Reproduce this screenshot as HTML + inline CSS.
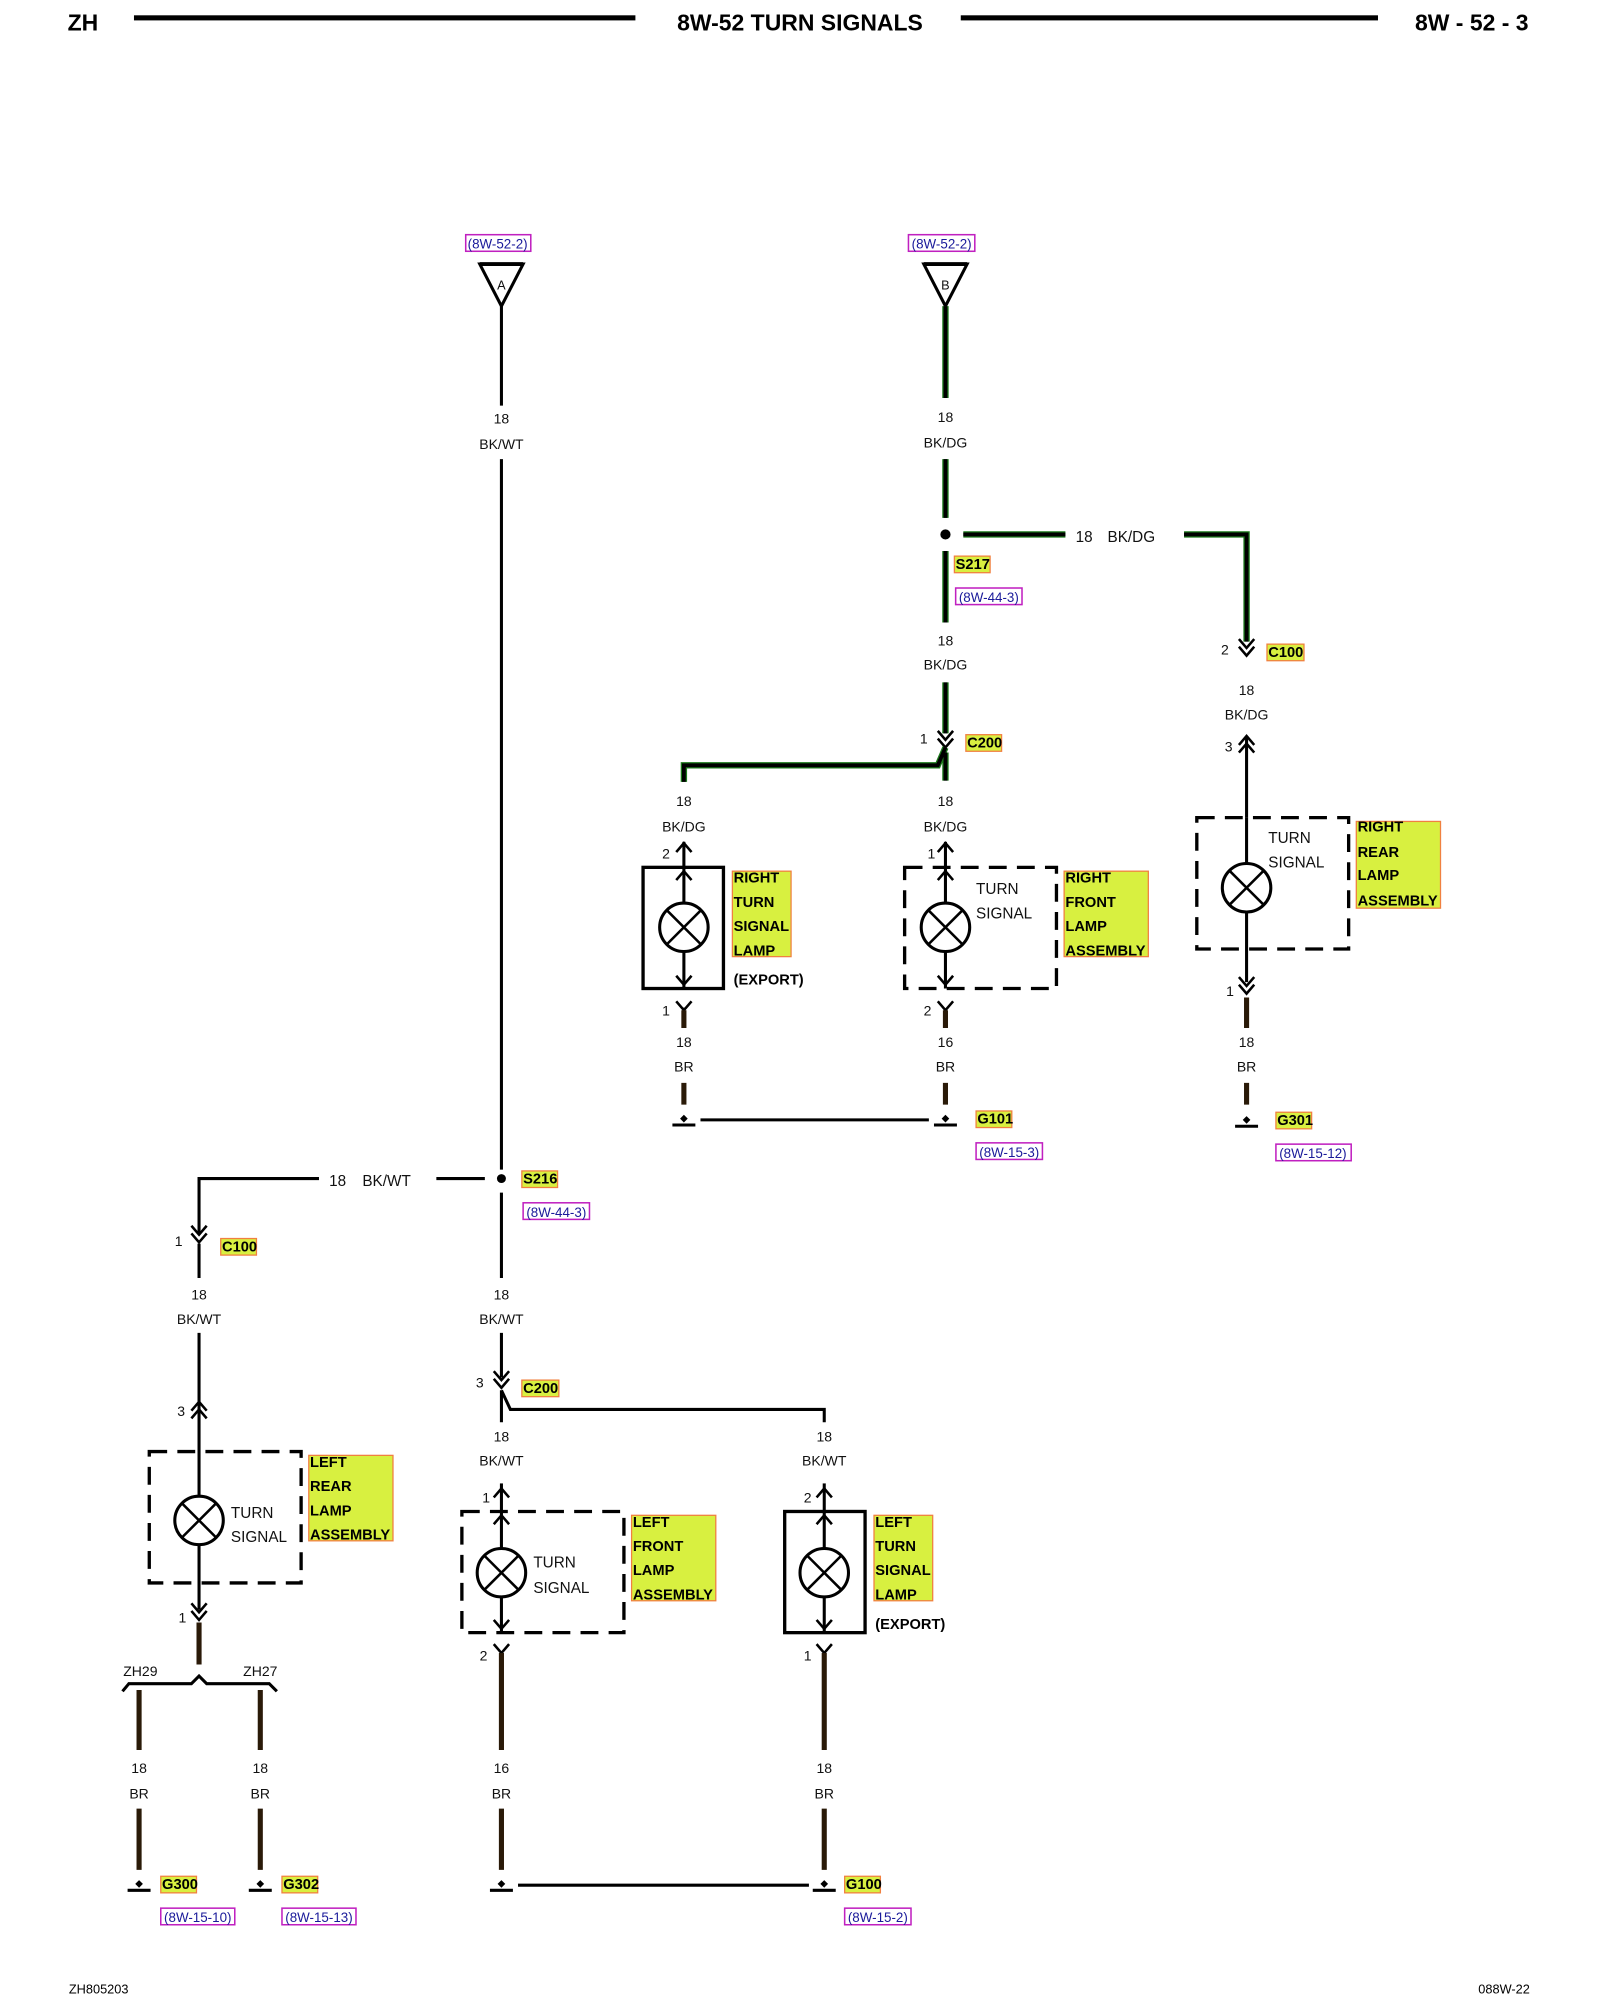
<!DOCTYPE html>
<html><head><meta charset="utf-8"><style>
html,body{margin:0;padding:0;background:#fff}
svg{display:block}
text{font-family:"Liberation Sans",sans-serif}
.t{font-size:11px;text-anchor:middle;fill:#111}
.l{font-size:12px;fill:#111}
.lb{font-size:11.5px;font-weight:bold;fill:#000}
.ref{font-size:10.5px;fill:#1a1a9a;text-anchor:middle}
.w{stroke:#000;stroke-width:2.4;fill:none}
.br{stroke:#2a1a08;stroke-width:4;fill:none}
.g{stroke:#1c7a1c;stroke-width:5;fill:none}
.gk{stroke:#000;stroke-width:3;fill:none}
.d{stroke:#000;stroke-width:2.6;fill:none;stroke-dasharray:14 8}
.s{stroke:#000;stroke-width:2.6;fill:none}
</style></head><body>
<svg width="1600" height="2000" viewBox="0 0 1254 1568" preserveAspectRatio="none" xmlns="http://www.w3.org/2000/svg">
<defs>
<g id="lamp"><circle r="19" fill="#fff" stroke="#000" stroke-width="2.4"/><path d="M-13,-13L13,13M13,-13L-13,13" stroke="#000" stroke-width="2"/></g>
<g id="car"><path d="M-6,7L0,0L6,7" stroke="#000" stroke-width="2" fill="none"/></g>
<g id="vee"><path d="M-6,-7L0,0L6,-7" stroke="#000" stroke-width="2" fill="none"/></g>
<g id="gnd"><path d="M-9,4H9" stroke="#000" stroke-width="2.4"/><path d="M0,-4L3,-1L0,2L-3,-1Z" fill="#000"/></g>
</defs>
<!-- header -->
<text x="53" y="24" style="font-size:18px;font-weight:bold">ZH</text>
<rect x="105" y="12" width="393" height="4" fill="#000"/>
<text x="627" y="24" style="font-size:18px;font-weight:bold;text-anchor:middle">8W-52 TURN SIGNALS</text>
<rect x="753" y="12" width="327" height="4" fill="#000"/>
<text x="1198" y="24" style="font-size:18px;font-weight:bold;text-anchor:end">8W - 52 - 3</text>
<text x="54" y="1563" style="font-size:10px">ZH805203</text>
<text x="1199" y="1563" style="font-size:10px;text-anchor:end">088W-22</text>

<!-- ref boxes -->
<g fill="#fff" stroke="#c020c0" stroke-width="1.2">
<rect x="365" y="184" width="51" height="13"/><rect x="712" y="184" width="52" height="13"/>
<rect x="749" y="461" width="52" height="13"/><rect x="765" y="896" width="52" height="13"/>
<rect x="1000" y="897" width="59" height="13"/><rect x="410" y="943" width="52" height="13"/>
<rect x="126" y="1496" width="58" height="13"/><rect x="221" y="1496" width="58" height="13"/>
<rect x="662" y="1496" width="52" height="13"/>
</g>
<text class="ref" x="390" y="195">(8W-52-2)</text><text class="ref" x="738" y="195">(8W-52-2)</text>
<text class="ref" x="775" y="472">(8W-44-3)</text><text class="ref" x="791" y="907">(8W-15-3)</text>
<text class="ref" x="1029" y="908">(8W-15-12)</text><text class="ref" x="436" y="954">(8W-44-3)</text>
<text class="ref" x="155" y="1507">(8W-15-10)</text><text class="ref" x="250" y="1507">(8W-15-13)</text>
<text class="ref" x="688" y="1507">(8W-15-2)</text>

<!-- yellow tags -->
<g fill="#d8f040" stroke="#f08040" stroke-width="1">
<rect x="748" y="436" width="28" height="13"/><rect x="993" y="505" width="29" height="13"/>
<rect x="757" y="576" width="28" height="13"/><rect x="765" y="871" width="28" height="13"/>
<rect x="1000" y="872" width="28" height="13"/><rect x="409" y="918" width="28" height="13"/>
<rect x="173" y="971" width="28" height="13"/><rect x="409" y="1082" width="29" height="13"/>
<rect x="126" y="1471" width="28" height="13"/><rect x="221" y="1471" width="28" height="13"/>
<rect x="662" y="1471" width="28" height="13"/>
<rect x="574" y="683" width="46" height="67"/><rect x="834" y="683" width="66" height="67"/>
<rect x="1063" y="644" width="66" height="68"/><rect x="242" y="1141" width="66" height="67"/>
<rect x="495" y="1188" width="66" height="67"/><rect x="685" y="1188" width="46" height="67"/>
</g>
<g class="lb">
<text x="749" y="446">S217</text><text x="994" y="515">C100</text><text x="758" y="586">C200</text>
<text x="766" y="881">G101</text><text x="1001" y="882">G301</text><text x="410" y="928">S216</text>
<text x="174" y="981">C100</text><text x="410" y="1092">C200</text><text x="127" y="1481">G300</text>
<text x="222" y="1481">G302</text><text x="663" y="1481">G100</text>
<text x="575" y="692">RIGHT</text><text x="575" y="711">TURN</text><text x="575" y="730">SIGNAL</text><text x="575" y="749">LAMP</text>
<text x="575" y="772">(EXPORT)</text>
<text x="835" y="692">RIGHT</text><text x="835" y="711">FRONT</text><text x="835" y="730">LAMP</text><text x="835" y="749">ASSEMBLY</text>
<text x="1064" y="652">RIGHT</text><text x="1064" y="672">REAR</text><text x="1064" y="690">LAMP</text><text x="1064" y="710">ASSEMBLY</text>
<text x="243" y="1150">LEFT</text><text x="243" y="1169">REAR</text><text x="243" y="1188">LAMP</text><text x="243" y="1207">ASSEMBLY</text>
<text x="496" y="1197">LEFT</text><text x="496" y="1216">FRONT</text><text x="496" y="1235">LAMP</text><text x="496" y="1254">ASSEMBLY</text>
<text x="686" y="1197">LEFT</text><text x="686" y="1216">TURN</text><text x="686" y="1235">SIGNAL</text><text x="686" y="1254">LAMP</text>
<text x="686" y="1277">(EXPORT)</text>
</g>

<!-- triangles -->
<path d="M376,207H410L393,240Z" class="w" fill="#fff"/><path d="M376,207H410" stroke="#000" stroke-width="3"/>
<text x="393" y="227" class="t" style="font-size:10px">A</text>
<path d="M724,207H758L741,240Z" class="w" fill="#fff"/><path d="M724,207H758" stroke="#000" stroke-width="3"/>
<text x="741" y="227" class="t" style="font-size:10px">B</text>

<!-- wire A -->
<path class="w" d="M393,240V318M393,360V917M380,924H342M250,924H156V968"/>
<circle cx="393" cy="924" r="3.5"/>
<text class="t" x="393" y="332">18</text><text class="t" x="393" y="352">BK/WT</text>
<text class="l" x="258" y="930">18</text><text class="l" x="284" y="930">BK/WT</text>

<!-- wire B green -->
<path class="g" d="M741,240V312M741,360V406M741,432V488M741,535V575M755,419H835M928,419H977V503"/>
<path class="gk" d="M741,240V312M741,360V406M741,432V488M741,535V575M755,419H835M928,419H977V503"/>
<circle cx="741" cy="419" r="4"/>
<text class="t" x="741" y="331">18</text><text class="t" x="741" y="351">BK/DG</text>
<text class="l" x="843" y="425">18</text><text class="l" x="868" y="425">BK/DG</text>
<text class="t" x="741" y="506">18</text><text class="t" x="741" y="525">BK/DG</text>
<text class="t" x="960" y="513">2</text>
<g transform="translate(977,508)"><use href="#vee"/><use href="#vee" y="6"/></g>
<text class="t" x="977" y="545">18</text><text class="t" x="977" y="564">BK/DG</text>
<text class="t" x="963" y="589">3</text>
<g transform="translate(977,577)"><use href="#car"/><use href="#car" y="6"/></g>
<path class="w" d="M977,577V641"/>

<!-- C200 right -->
<text class="t" x="724" y="583">1</text>
<g transform="translate(741,580)"><use href="#vee"/><use href="#vee" y="6"/></g>
<path class="g" d="M741,586L735,600H536V613M741,590V612"/>
<path class="gk" d="M741,586L735,600H536V613M741,590V612"/>
<text class="t" x="536" y="632">18</text><text class="t" x="536" y="652">BK/DG</text>
<text class="t" x="741" y="632">18</text><text class="t" x="741" y="652">BK/DG</text>

<!-- right turn signal lamp -->
<text class="t" x="522" y="673">2</text><path class="w" d="M536,660V680"/><use href="#car" x="536" y="661"/>
<rect x="504" y="680" width="63" height="95" class="s"/>
<path class="w" d="M536,680V775M536,790V800"/><use href="#car" x="536" y="683"/><use href="#vee" x="536" y="772"/>
<use href="#lamp" x="536" y="727"/>
<text class="t" x="522" y="796">1</text><use href="#vee" x="536" y="792"/>
<path class="br" d="M536,792V806M536,849V866"/>
<text class="t" x="536" y="821">18</text><text class="t" x="536" y="840">BR</text>
<use href="#gnd" x="536" y="878"/>
<path class="w" d="M549,878H728"/>

<!-- right front lamp -->
<text class="t" x="730" y="673">1</text><path class="w" d="M741,660V680"/><use href="#car" x="741" y="661"/>
<rect x="709" y="680" width="119" height="95" class="d"/>
<path class="w" d="M741,680V775"/><use href="#car" x="741" y="683"/><use href="#vee" x="741" y="772"/>
<use href="#lamp" x="741" y="727"/>
<text class="l" x="765" y="701">TURN</text><text class="l" x="765" y="720">SIGNAL</text>
<text class="t" x="727" y="796">2</text><use href="#vee" x="741" y="792"/>
<path class="br" d="M741,792V806M741,849V866"/>
<text class="t" x="741" y="821">16</text><text class="t" x="741" y="840">BR</text>
<use href="#gnd" x="741" y="878"/>

<!-- right rear lamp -->
<rect x="938" y="641" width="119" height="103" class="d"/>
<path class="w" d="M977,641V770"/><use href="#lamp" x="977" y="696"/>
<text class="l" x="994" y="661">TURN</text><text class="l" x="994" y="680">SIGNAL</text>
<text class="t" x="964" y="781">1</text>
<g transform="translate(977,773)"><use href="#vee"/><use href="#vee" y="6"/></g>
<path class="br" d="M977,782V806M977,849V866"/>
<text class="t" x="977" y="821">18</text><text class="t" x="977" y="840">BR</text>
<use href="#gnd" x="977" y="879"/>

<!-- left rear -->
<text class="t" x="140" y="977">1</text>
<g transform="translate(156,968)"><use href="#vee"/><use href="#vee" y="6"/></g>
<path class="w" d="M156,975V1002M156,1045V1138"/>
<text class="t" x="156" y="1019">18</text><text class="t" x="156" y="1038">BK/WT</text>
<text class="t" x="142" y="1110">3</text>
<g transform="translate(156,1099)"><use href="#car"/><use href="#car" y="6"/></g>
<rect x="117" y="1138" width="119" height="103" class="d"/>
<path class="w" d="M156,1138V1262"/><use href="#lamp" x="156" y="1192"/>
<text class="l" x="181" y="1190">TURN</text><text class="l" x="181" y="1209">SIGNAL</text>
<text class="t" x="143" y="1272">1</text>
<g transform="translate(156,1264)"><use href="#vee"/><use href="#vee" y="6"/></g>
<path class="br" d="M156,1272V1305"/>
<path class="w" d="M96,1326L101,1320H150L156,1314L162,1320H211L217,1326" stroke-width="2"/>
<text class="t" x="110" y="1314">ZH29</text><text class="t" x="204" y="1314">ZH27</text>
<path class="br" d="M109,1325V1372M109,1418V1466M204,1325V1372M204,1418V1466"/>
<text class="t" x="109" y="1390">18</text><text class="t" x="109" y="1410">BR</text>
<text class="t" x="204" y="1390">18</text><text class="t" x="204" y="1410">BR</text>
<use href="#gnd" x="109" y="1478"/><use href="#gnd" x="204" y="1478"/>

<!-- center C200 -->
<path class="w" d="M393,935V1002M393,1045V1080"/>
<text class="t" x="393" y="1019">18</text><text class="t" x="393" y="1038">BK/WT</text>
<text class="t" x="376" y="1088">3</text>
<g transform="translate(393,1082)"><use href="#vee"/><use href="#vee" y="6"/></g>
<path class="w" d="M393,1090L400,1105H646V1115M393,1090V1115"/>
<text class="t" x="393" y="1130">18</text><text class="t" x="393" y="1149">BK/WT</text>
<text class="t" x="646" y="1130">18</text><text class="t" x="646" y="1149">BK/WT</text>

<!-- left front -->
<text class="t" x="381" y="1178">1</text><path class="w" d="M393,1163V1185"/><use href="#car" x="393" y="1167"/>
<rect x="362" y="1185" width="127" height="95" class="d"/>
<path class="w" d="M393,1185V1280"/><use href="#car" x="393" y="1188"/><use href="#vee" x="393" y="1277"/>
<use href="#lamp" x="393" y="1233"/>
<text class="l" x="418" y="1229">TURN</text><text class="l" x="418" y="1249">SIGNAL</text>
<text class="t" x="379" y="1302">2</text><use href="#vee" x="393" y="1296"/>
<path class="br" d="M393,1296V1372M393,1418V1466"/>
<text class="t" x="393" y="1390">16</text><text class="t" x="393" y="1410">BR</text>
<use href="#gnd" x="393" y="1478"/>
<path class="w" d="M406,1478H634"/>

<!-- left turn signal -->
<text class="t" x="633" y="1178">2</text><path class="w" d="M646,1163V1185"/><use href="#car" x="646" y="1167"/>
<rect x="615" y="1185" width="63" height="95" class="s"/>
<path class="w" d="M646,1185V1280"/><use href="#car" x="646" y="1188"/><use href="#vee" x="646" y="1277"/>
<use href="#lamp" x="646" y="1233"/>
<text class="t" x="633" y="1302">1</text><use href="#vee" x="646" y="1296"/>
<path class="br" d="M646,1296V1372M646,1418V1466"/>
<text class="t" x="646" y="1390">18</text><text class="t" x="646" y="1410">BR</text>
<use href="#gnd" x="646" y="1478"/>
</svg>
</body></html>
